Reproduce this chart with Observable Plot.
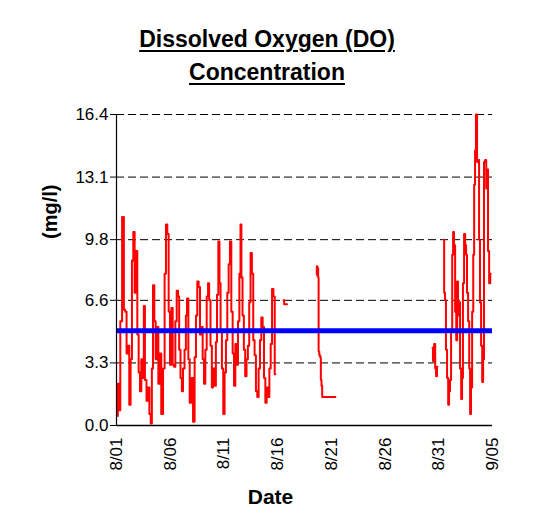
<!DOCTYPE html>
<html><head><meta charset="utf-8">
<script src="https://cdn.jsdelivr.net/npm/d3@7"></script>
<script src="https://cdn.jsdelivr.net/npm/@observablehq/plot@0.6"></script>
<style>
body{margin:0;background:#fff;}
#wrap{position:relative;width:541px;height:525px;font-family:"Liberation Sans",Arial,sans-serif;}
#title{position:absolute;left:0;top:23px;width:534px;text-align:center;font-weight:bold;font-size:23px;line-height:33px;text-decoration:underline;text-decoration-thickness:2px;text-underline-offset:3px;z-index:2;}
#chart{position:absolute;left:0;top:0;}
</style></head><body>
<div id="wrap"><div id="title">Dissolved Oxygen (DO)<br>Concentration</div><div id="chart"></div></div>
<script>
// hours since 8/01 00:00 and DO values (mg/l), per continuous record segment
const seg1Hours = [2,4,7,10,15,18,21,24,27,30,
  33,36,39,42,45,48,51,54,57,60,
  62,65,69,72,75,78,80,83,86,89,
  92,95,98,102,106,109,112,115,118,121,
  124,127,130,133,136,139,141,145,147,150,
  154,156,159,162,165,169,173,176,179,182,
  185,188,191,194,197,200,203,206,208,212,
  214,217,221,223,226,229,231,234,237,240,
  243,246,249,252,255,258,261,264,267,270,
  273,276,278,280,283,286,289,292,295,298,
  301,304,307,310,313,316,319,322,325,328,
  331,334,337,340,343,346,349,352,355];
const seg1DO = [0.5,2.2,0.8,5.5,11.0,6.1,6.0,3.8,4.2,1.1,
  3.5,8.7,10.2,7.0,9.2,4.8,2.8,1.8,3.5,2.5,
  6.3,2.4,1.3,2.0,0.6,0.1,3.0,7.4,5.5,3.5,
  5.2,2.2,3.8,0.6,3.0,8.0,10.6,10.1,6.0,3.2,
  6.2,3.2,3.1,5.5,7.1,6.8,4.0,2.5,1.8,3.0,
  4.0,5.8,6.7,3.5,1.2,2.5,0.2,3.6,5.8,7.6,
  7.3,4.8,5.2,3.5,2.2,4.0,6.8,7.5,6.6,4.2,
  2.0,3.0,2.1,4.4,6.9,9.7,7.5,5.0,3.0,0.6,
  2.8,4.5,7.0,8.5,9.7,6.0,3.8,2.1,4.3,3.2,
  5.5,8.0,10.6,7.8,5.8,4.0,2.6,3.5,4.2,6.5,
  9.1,8.0,4.5,3.7,1.8,1.5,3.0,4.5,5.7,5.2,
  2.5,1.2,2.0,1.5,3.0,4.3,7.2,6.8,2.7];
const seg2Hours = [373,376,381];
const seg2DO = [6.6,6.4,6.4];
const seg3Hours = [447,448,449,450,451,452,454,456,457,459,460,489];
const seg3DO = [8.0,8.4,7.9,8.3,7.8,3.9,3.7,3.6,2.4,2.1,1.5,1.5];
const seg4Hours = [706,708,711,713,715,717];
const seg4DO = [4.1,3.4,4.3,3.0,2.6,3.1];
const seg5Hours = [731,733,735,737,740,742,744,746,749,751,
  753,755,758,760,762,764,766,769,771,773,
  775,778,780,782,784,787,789,791,793,796,
  798,800,802,804,807,809,811,813,816,818,
  820,822,825,827,829,831,834,836];
const seg5DO = [9.8,7.0,6.6,4.0,2.5,1.1,1.8,2.4,5.0,9.0,
  10.2,9.5,6.0,4.5,7.6,5.8,6.5,3.0,1.4,2.5,
  7.5,10.1,9.5,9.0,7.0,5.5,3.0,0.6,2.0,6.0,
  9.0,12.7,14.5,16.4,13.9,14.0,9.8,6.5,4.2,2.3,
  3.5,13.9,14.0,12.5,13.5,9.2,7.5,8.0];
const referenceLevel = 5.0;
const yTicks = [0, 3.3, 6.6, 9.8, 13.1, 16.4];
const xTickLabels = ["8/01","8/06","8/11","8/16","8/21","8/26","8/31","9/05"];

const start = Date.UTC(2003, 7, 1);
const toDate = h => new Date(start + h * 3600e3);
const segments = [[seg1Hours, seg1DO],[seg2Hours, seg2DO],[seg3Hours, seg3DO],[seg4Hours, seg4DO],[seg5Hours, seg5DO]];
const rows = [];
segments.forEach(([hs, vs], i) => hs.forEach((h, j) => rows.push({t: toDate(h), v: vs[j], seg: i})));
const xTicks = xTickLabels.map(s => { const [m, d] = s.split("/").map(Number); return new Date(Date.UTC(2003, m - 1, d)); });

const chart = Plot.plot({
  width: 541, height: 525,
  marginLeft: 116, marginRight: 49, marginTop: 114, marginBottom: 100,
  style: {fontFamily: "'Liberation Sans', Arial, sans-serif", fontSize: "17px", color: "#000", background: "transparent"},
  x: {type: "utc", domain: [xTicks[0], xTicks[xTicks.length - 1]]},
  y: {domain: [0, 16.4]},
  marks: [
    Plot.gridY(yTicks, {stroke: "#000", strokeOpacity: 1, strokeDasharray: "8,4"}),
    Plot.line(rows, {x: "t", y: "v", z: "seg", stroke: "#ff0000", strokeWidth: 2, curve: "step"}),
    Plot.ruleY([referenceLevel], {stroke: "#0000ff", strokeWidth: 5}),
    Plot.ruleY([0], {stroke: "#000", strokeWidth: 1.5}),
    Plot.ruleX([xTicks[0]], {stroke: "#000", strokeWidth: 1.2}),
    Plot.axisY(yTicks, {tickSize: 6, tickPadding: 2, tickFormat: d => d.toFixed(1), label: null, fontSize: 17}),
    Plot.axisX(xTicks, {tickSize: 0, tickRotate: -90, tickPadding: 12, tickFormat: (d, i) => xTickLabels[i], label: null, fontSize: 17}),
    Plot.text(["Date"], {text: d => d, frameAnchor: "bottom", dx: -34, dy: 78, lineAnchor: "bottom", fontWeight: "bold", fontSize: 21}),
    Plot.text(["(mg/l)"], {text: d => d, frameAnchor: "left", rotate: -90, dx: -60, dy: -31, lineAnchor: "bottom", fontWeight: "bold", fontSize: 20})
  ]
});
document.getElementById("chart").appendChild(chart);
</script>
</body></html>
